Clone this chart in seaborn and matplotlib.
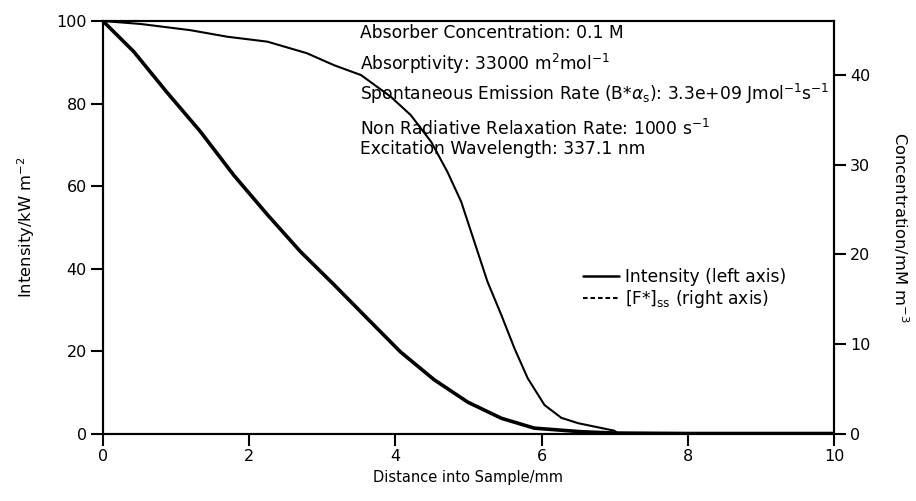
import matplotlib
matplotlib.use("Agg")
import matplotlib.pyplot as plt
import seaborn as sns
import pandas as pd
from matplotlib.lines import Line2D

# Intensity (left axis, kW m^-2) vs distance (mm)
int_x = [0.0, 0.51, 1.19, 1.70, 2.25, 2.79, 3.16, 3.53, 3.94, 4.21, 4.49, 4.71, 4.90,
         5.08, 5.26, 5.45, 5.63, 5.81, 6.04, 6.27, 6.50, 6.99, 7.05, 8.0, 9.0, 10.0]
int_y = [100.0, 99.3, 97.8, 96.2, 95.0, 92.2, 89.3, 86.9, 81.6, 77.2, 70.7, 63.5, 56.2,
         46.5, 36.8, 28.7, 20.6, 13.4, 6.9, 3.8, 2.5, 0.7, 0.0, 0.0, 0.0, 0.0]

# [F*]ss (right axis, mM m^-3) vs distance (mm)
conc_x = [0.0, 0.42, 0.87, 1.33, 1.79, 2.25, 2.70, 3.16, 3.62, 4.07, 4.53, 4.99, 5.45,
          5.90, 6.54, 7.0, 8.0, 9.0, 10.0]
conc_y = [46.0, 42.6, 38.1, 33.7, 28.8, 24.4, 20.3, 16.6, 12.8, 9.1, 6.0, 3.5, 1.7,
          0.6, 0.2, 0.05, 0.0, 0.0, 0.0]

x_ticks = [0, 2, 4, 6, 8, 10]
left_ticks = [0, 20, 40, 60, 80, 100]
right_ticks = [0, 10, 20, 30, 40]

annotations = [
    "Absorber Concentration: 0.1 M",
    r"Absorptivity: 33000 m$^{2}$mol$^{-1}$",
    r"Spontaneous Emission Rate (B*$\alpha_{\rm s}$): 3.3e+09 Jmol$^{-1}$s$^{-1}$",
    r"Non Radiative Relaxation Rate: 1000 s$^{-1}$",
    "Excitation Wavelength: 337.1 nm",
]

sns.set_theme(style="ticks")
plt.rcParams["font.family"] = ["DejaVu Sans"]
plt.rcParams["mathtext.fontset"] = "dejavusans"
plt.rcParams["text.color"] = "black"
plt.rcParams["axes.labelcolor"] = "black"

fig = plt.figure(figsize=(9.16, 5.01), dpi=100)
ax = fig.add_axes([0.1124, 0.1347, 0.7981, 0.8233])
ax2 = ax.twinx()

df_i = pd.DataFrame({"x": int_x, "y": int_y})
df_c = pd.DataFrame({"x": conc_x, "y": conc_y})
sns.lineplot(data=df_i, x="x", y="y", ax=ax, color="black", linewidth=1.5,
             estimator=None, sort=False)
sns.lineplot(data=df_c, x="x", y="y", ax=ax2, color="black", linewidth=2.6,
             estimator=None, sort=False)

ax.set_xlim(0, 10)
ax.set_ylim(0, 100)
ax2.set_ylim(0, 46.0)
ax.set_xticks(x_ticks)
ax.set_yticks(left_ticks)
ax2.set_yticks(right_ticks)

for a in (ax, ax2):
    for s in a.spines.values():
        s.set_linewidth(1.5)
        s.set_color("black")
    a.tick_params(direction="out", length=8.5, width=1.5, labelsize=11.5,
                  colors="black", pad=3)

ax.set_xlabel("Distance into Sample/mm", fontsize=10.5, labelpad=4, color="black")
ax.set_ylabel(r"Intensity/kW m$^{-2}$", fontsize=11.8, labelpad=14, color="black")
ax2.set_ylabel(r"Concentration/mM m$^{-3}$", fontsize=11.8, rotation=270,
               labelpad=29, color="black")

ypos = [0.970, 0.895, 0.823, 0.738, 0.690]
for t, yy in zip(annotations, ypos):
    ax.text(0.352, yy, t, transform=ax.transAxes, fontsize=12.3,
            va="center", ha="left", color="black")

handles = [Line2D([], [], color="black", linewidth=1.8),
           Line2D([], [], color="black", linewidth=1.5, linestyle=(0, (2.2, 1.4)))]
labels = ["Intensity (left axis)", r"[F*]$_{\rm ss}$ (right axis)"]
leg = ax.legend(handles, labels, loc="center left", bbox_to_anchor=(0.645, 0.35),
                frameon=False, fontsize=12.3, handlelength=2.1, handletextpad=0.35,
                labelspacing=0.1, borderpad=0)
for t in leg.get_texts():
    t.set_color("black")

fig.savefig("out.png", dpi=100)
